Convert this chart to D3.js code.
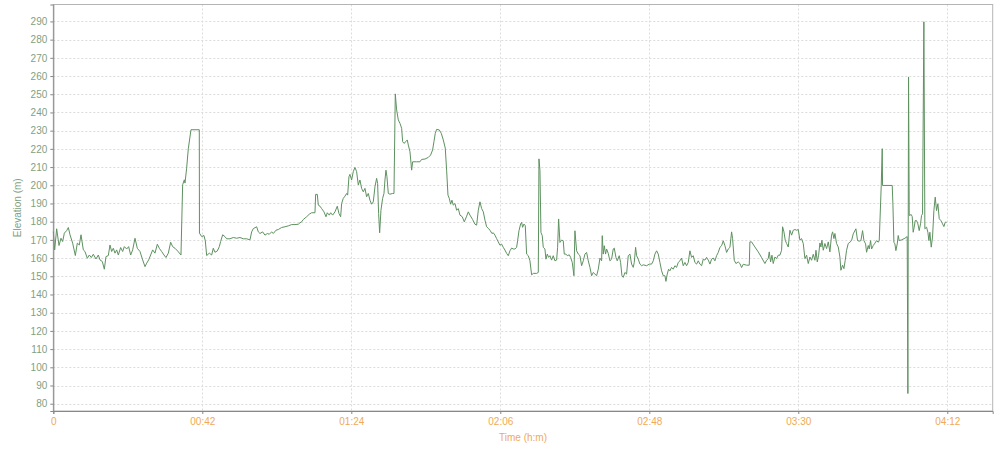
<!DOCTYPE html>
<html>
<head>
<meta charset="utf-8">
<script src="https://cdn.jsdelivr.net/npm/d3@7/dist/d3.min.js"></script>
<style>
html,body{margin:0;padding:0;background:#fff;}
svg{display:block;font-family:"Liberation Sans",Arial,sans-serif;}
</style>
</head>
<body>
<svg id="chart" width="1000" height="450"></svg>
<script>
// ---- data: time in minutes, elevation in metres ----
const minutesA = [0,0.39,0.95,1.61,2.17,2.64,3.11,3.77,4.24,4.71,
  5.46,6.21,6.77,7.34,7.81,8.46,8.93,9.59,10.16,10.72,
  11.28,12.03,12.69,13.16,13.82,14.38,14.85,15.51,15.98,16.45,
  16.92,17.39,17.86,18.33,18.99,19.55,20.02,20.68,21.24,21.81,
  22.37,23.03,23.68,24.44,25.19,25.85,26.32,26.88,27.44,28.01,
  28.66,29.32,29.88,30.54,31.2,31.76,32.42,33.08,33.64,34.3,
  35.05,35.99,36.46,36.93,37.12,37.59,38.05,38.81,41.15,41.2,
  41.82,42.47,42.85,43.23,43.98,44.64,45.1,45.57,46.23,46.8,
  47.17,47.74,48.39,48.86,49.8,50.74,51.68,52.62,53.56,54.5,
  55.44];
const elevationA = [174.6,164.5,176.1,166.9,170.9,169.1,173.7,175.1,176.8,172.8,
  168.2,161.4,168.2,167.2,172.8,164.5,163.6,159.9,161.7,160.3,
  162.1,159.5,161.7,159,158.1,153.9,160.8,161.4,167.2,163.6,
  165.4,162.7,164.5,161.7,165.8,163.6,166.3,165,166.3,161.7,
  164.5,170.9,165.4,163.6,159,155.3,157.2,159,161.7,164.5,
  162.7,167.6,165.4,163.6,161.7,160.3,162.7,168.7,166.3,165.4,
  163.9,161.7,200.3,203,201.2,209.4,220,230.5,230.5,173.7,
  171.8,172.4,169.4,161.4,162.7,161.7,165.4,163.2,163.9,166.3,
  169.1,172.8,171.8,170.6,170.6,171.3,170.9,171.3,170.6,170.6,
  170];

const minutesB = [55.91,56.38,57.32,57.79,58.26,59.01,59.67,60.32,60.89,61.55,
  62.02,62.77,63.42,64.36,65.3,66.24,67.18,68.12,69.06,69.53,
  70,70.47,71.41,72.16,72.82,73.76,73.95,74.42,74.7,75.17,
  75.64,76.3,76.86,77.23,77.8,78.18,78.74,79.4,80.05,80.52,
  81,81.28,81.74,82.21,82.69,82.97,83.34,83.62,84.09,84.56,
  85.03,85.5,85.97,86.44,86.91,87.38,87.85,88.32,88.79,89.26,
  89.73,90.2,90.67,91.14,91.42,91.7,91.99,92.36,92.83,93.21,
  93.49,93.77,94.05,94.43,94.9,95.65,96.03,96.4,96.78,97.25,
  97.72,98.19,98.47,98.85,99.41,99.78,100.07,100.54,101.01,101.29,
  102.41,103.35,103.82,104.76,105.7,106.36,106.92,107.3,107.67,108.05,
  108.8,109.37,109.93,110.49,110.87,111.25,111.62,112,112.37,112.75,
  113.22,113.69,114.16,114.63,115.28,115.85,116.51,116.98,117.45,118.2,
  118.86,119.33,119.8,120.27,120.74,121.21,121.68,122.15,122.71,123.08,
  123.65,124.02,124.49,124.96,125.43,125.9];
const elevationB = [174.4,176.2,177.2,174.4,173.5,174.4,172.6,173.5,173.1,174.4,
  173.5,175.3,175.7,176.8,177.2,177.7,178.4,178.4,178.6,179.4,
  179.9,181.2,182.7,184.1,184.9,184.9,195,195,189.1,188.5,
  187.2,185.4,182.7,184.9,183.6,184.9,183.6,185.4,188.5,184.5,
  182.7,190,192.8,194,195.5,194.6,204.7,206,202.9,207.5,
  209.8,207.5,200.2,202.9,198.3,196.4,198.3,193.7,195.5,191.8,
  189.6,190.9,199.2,203.8,201,184.5,173.9,186.3,192.8,195.5,
  202.9,208.3,204.7,195.5,195.1,195.5,195.5,250.2,241.4,235.9,
  234,231.3,224,223,224,224.9,222.1,218.4,208.3,212.9,
  212.9,212.9,214.2,214.4,215.3,216.6,219.4,224,228.5,230.7,
  230.4,228.5,224.9,220.4,208.3,194.6,192.8,189.6,191.8,189.1,
  190,186.3,187.2,183.6,182.7,179.9,183,185.4,183.6,181.2,
  178.6,178.1,186.3,190.9,187.2,185.4,180.8,177.2,176.2,175.3,
  173.5,173.9,172.6,170.7,168.9,167.1];

const minutesC = [126.37,126.84,127.31,127.78,128.25,128.72,129.19,129.66,130.13,130.6,
  130.88,131.26,131.73,132.01,132.29,132.67,133.04,133.42,133.89,134.36,
  134.83,135.3,136.24,136.71,136.9,137.18,137.46,137.83,138.11,138.58,
  138.87,139.24,139.62,139.99,140.46,140.93,141.4,141.87,142.16,142.44,
  142.81,143.28,143.75,144.03,144.5,144.88,145.44,145.82,146.29,146.76,
  147.04,147.51,147.98,148.45,148.92,149.39,149.86,150.33,150.8,151.27,
  151.74,152.21,152.68,153.15,153.62,154.09,154.56,154.74,155.02,155.31,
  155.68,155.96,156.43,156.9,157.37,157.84,158.12,158.6,158.97,159.53,
  159.91,160.29,160.66,161.13,161.6,162.07,162.54,163.01,163.48,163.76,
  164.14,164.42,164.89,165.36,165.83,166.3,167.24,167.99,168.65,169.12,
  169.59,170.06,170.53,171,171.47,171.94,172.41,172.69,173.06,173.44,
  173.81,174.28,174.75,175.22,175.69,176.16,176.63,177.1,177.57,178.04,
  178.51,178.98,179.45,179.92,180.39,180.86,181.33,181.8,182.27,182.74,
  183.21,183.68,184.15,184.62,185.09,185.56,186.03,186.5,186.97,187.44,
  187.91,188.38,188.85,189.32,189.79,190.26,190.73];
const elevationC = [167.7,165.9,164.4,162.6,161.3,164,165.5,165,165,165.9,
  169.5,175,178.7,179.6,176.9,178.7,177.8,162.2,161.3,158.5,
  150.8,151.6,151.6,152.1,214.5,208.1,174.1,172.3,165.9,165,
  159.4,162.2,160.4,161.3,158.9,161.3,158.5,158.9,165.9,181.5,
  168.6,169.9,169.5,162.2,162.2,161.3,161.8,160.4,157.6,150.3,
  175,164,162.2,161.3,155.8,158.5,162.2,163.1,158.5,154.9,
  150.3,152.1,151.2,150.3,153.9,160,158.5,172.3,162.2,166.8,
  162.2,165,162.6,158.5,159.4,165,165.5,160.4,158.5,161.3,
  157.6,150.3,149.4,152.1,151.2,161.3,162.2,156.7,154.9,157.6,
  165.9,161.3,159.4,156.7,155.8,156.3,155.8,156.7,156.7,158.5,
  162.2,164,162.2,157.6,153,150.3,150.3,147.2,151.2,153.9,
  153,154.9,153.9,155.8,154.9,157.6,158.5,160,155.8,157.6,
  155.8,157.6,164,160.4,161.3,157.6,156.7,158.5,156.7,155.8,
  159.4,158.9,160.4,158.9,156.7,159.4,160,158.5,161.3,163.1,
  165.9,166.8,169.5,166.8,163.1,165,165.9];

const minutesD = [191.2,191.48,191.95,192.42,193.07,193.55,194.02,194.48,195.42,196.18,
  196.36,196.83,197.77,198.71,199.65,200.59,201.06,201.53,201.81,202.19,
  202.57,202.94,203.41,203.88,204.35,204.82,205.29,205.57,205.95,206.32,
  206.7,207.17,207.64,208.11,208.58,209.05,209.52,209.99,210.46,210.93,
  211.4,211.87,212.34,212.81,213.28,213.75,214.22,214.69,214.98,215.35,
  215.73,216.1,216.38,216.66,217.04,217.5,217.98,218.45,218.91,219.38,
  219.67,220.04,220.32,220.79,221.26,221.73,222.01,222.48,222.86,223.23,
  223.61,224.08];
const elevationD = [174.4,170.7,158.8,157,157.9,157,154.8,156.6,156.1,156.1,
  168.9,168.9,166.1,163.4,160.3,157,158.8,159.7,163.4,157.9,
  161.6,157,160.6,159.7,161.6,161.6,164.3,177.2,174.4,169.8,
  168,166.1,175.3,172.6,175.3,175.7,175.3,175.7,169.8,170.7,
  168,159.7,161.6,157,160.6,158.8,162.1,158.8,164.3,157.9,
  161.6,168.3,166.1,169.8,164.3,168,165.2,168.9,163.4,172.6,
  174.4,170.7,173.5,168,166.1,160.6,153.3,156.1,154.2,158.8,
  164.3,168];

const minutesE = [224.55,225.02,225.49,226.24,226.71,227.18,227.65,228.12,228.5,228.97,
  229.25,229.72,230,230.38,230.66,231.13,231.6,232.07,232.54,232.82,
  233.38,233.66,233.75,236.48,236.67,236.95,237.23,237.51,237.89,238.17,
  238.45,239.11,240.05,240.7,240.89,241.08,241.27,241.83,242.11,242.39,
  242.67,242.95,243.33,243.71,244.08,244.46,244.74,245.02,245.4,245.68,
  246.15,246.53,246.81,247.09,247.47,247.84,248.22,248.6,248.97,249.35,
  249.73,250.2,250.67,251.04,251.42,251.8];
const elevationE = [168.7,169.6,173.3,176.1,169.6,169.3,169.6,175.1,169.6,167.8,
  163.2,166.9,165,169.6,165,166.9,168.2,169.6,168.7,169.6,
  199.9,220.1,199.9,199.9,189.8,168.7,167.8,164.1,167.8,172.4,
  169.6,170,170.9,171.8,85.6,259.5,183.4,183.9,182.8,174.2,
  177,180.6,180.6,178.8,175.1,178.8,183.4,184.3,289.8,176.1,
  177,174.2,169.6,174.2,166,171.5,186.1,193.5,186.1,189.8,
  181.6,180.6,178.8,177.3,179.7,179.7];

const xTickValues = [0, 42, 84, 126, 168, 210, 252];
const xTickLabels = ["0", "00:42", "01:24", "02:06", "02:48", "03:30", "04:12"];
const yTickValues = d3.range(80, 291, 10);
const xTitle = "Time (h:m)";
const yTitle = "Elevation (m)";

// ---- build ----
const minutes = [].concat(minutesA, minutesB, minutesC, minutesD, minutesE);
const elevation = [].concat(elevationA, elevationB, elevationC, elevationD, elevationE);
const n = Math.min(minutes.length, elevation.length);
const data = d3.range(n).map(i => ({t: minutes[i], e: elevation[i]}));

const L = 53.3, R = 992.7, T = 4.5, B = 411;
const svg = d3.select("#chart");

const x = d3.scaleLinear().domain([0, 264.8]).range([L, R]);
const y = d3.scaleLinear().domain([76, 299.3]).range([B, T]);

// grid
const grid = svg.append("g");
grid.selectAll("line.h").data(yTickValues).enter().append("line")
  .attr("x1", L).attr("x2", R)
  .attr("y1", d => Math.round(y(d)) + 0.5).attr("y2", d => Math.round(y(d)) + 0.5)
  .attr("stroke", "#dcdcdc").attr("stroke-dasharray", "2,2").attr("stroke-width", 1);
grid.selectAll("line.v").data(xTickValues.filter(v => v > 0)).enter().append("line")
  .attr("y1", T).attr("y2", B)
  .attr("x1", d => Math.round(x(d)) + 0.5).attr("x2", d => Math.round(x(d)) + 0.5)
  .attr("stroke", "#dcdcdc").attr("stroke-dasharray", "2,2").attr("stroke-width", 1);

// frame
svg.append("rect").attr("x", L).attr("y", T).attr("width", R - L).attr("height", B - T)
  .attr("fill", "none").attr("stroke", "#b4b4b4").attr("stroke-width", 1);

// line
const line = d3.line().x(d => x(d.t)).y(d => y(d.e));
svg.append("path").datum(data).attr("d", line)
  .attr("fill", "none").attr("stroke", "#5e9160").attr("stroke-width", 1)
  .attr("stroke-linejoin", "round");

// axes
const yAxis = d3.axisLeft(y).tickValues(yTickValues).tickSize(3).tickPadding(3).tickFormat(d3.format("d"));
const gy = svg.append("g").attr("transform", `translate(${L},0)`).call(yAxis);
gy.select(".domain").attr("stroke", "#888");
gy.selectAll(".tick line").attr("stroke", "#888");
gy.selectAll(".tick text").attr("fill", "#7f9f7f").style("font-size", "10px")
  .style("font-family", "'Liberation Sans', Arial, sans-serif");

const xAxis = d3.axisBottom(x).tickValues(xTickValues).tickSize(3).tickPadding(4)
  .tickFormat((d, i) => xTickLabels[i]);
const gx = svg.append("g").attr("transform", `translate(0,${B})`).call(xAxis);
gx.select(".domain").attr("stroke", "#888");
gx.selectAll(".tick line").attr("stroke", "#888");
gx.selectAll(".tick text").attr("fill", "#f0aa55").style("font-size", "10px")
  .style("font-family", "'Liberation Sans', Arial, sans-serif");

// titles
svg.append("text").attr("x", (L + R) / 2).attr("y", 441).attr("text-anchor", "middle")
  .attr("fill", "#f0aa55").style("font-size", "10px").text(xTitle);
svg.append("text").attr("transform", `translate(21,${(T + B) / 2}) rotate(-90)`)
  .attr("text-anchor", "middle").attr("fill", "#7f9f7f").style("font-size", "10px").text(yTitle);
</script>
</body>
</html>
